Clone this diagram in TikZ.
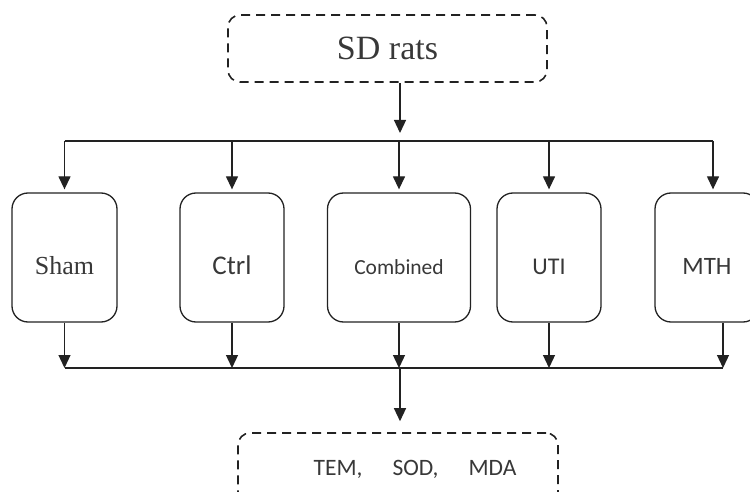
\documentclass[tikz,border=0pt]{standalone}
\usepackage{fontspec}
\setmainfont{Liberation Serif}
\setsansfont{Carlito}
\usetikzlibrary{arrows.meta}
\definecolor{ink}{HTML}{222222}
\tikzset{
  grp/.style={draw=ink,line width=1.3bp,rounded corners=16bp,minimum height=129bp,
    text height=34bp,text depth=0pt,inner sep=0pt,text=ink!90},
  dbox/.style={draw=ink,line width=1.6bp,dash pattern=on 9bp off 6bp,
    rounded corners=12bp,inner sep=0pt,text=ink!90},
  arr/.style={-{Triangle[length=13bp,width=12bp]},draw=ink,line width=1.3bp},
}

\begin{document}
\begin{tikzpicture}[x=1bp,y=-1bp]
  \useasboundingbox (0,0) rectangle (750,492);
  % source
  \node[dbox,minimum width=319bp,minimum height=67bp,
        font=\fontsize{34bp}{40bp}\selectfont] (rats) at (387.5,48.5) {SD rats};
  % groups
  \node[grp,minimum width=105bp,font=\fontsize{26bp}{30bp}\selectfont]
        (sham) at (64.5,257.5) {Sham};
  \node[grp,minimum width=104bp,font=\sffamily\fontsize{27bp}{30bp}\selectfont]
        (ctrl) at (232,257.5) {Ctrl};
  \node[grp,minimum width=143bp,font=\sffamily\fontsize{21.5bp}{26bp}\selectfont]
        (comb) at (399,257.5) {Combined};
  \node[grp,minimum width=104bp,font=\sffamily\fontsize{24bp}{30bp}\selectfont]
        (uti) at (549,257.5) {UTI};
  \node[grp,minimum width=104bp,font=\sffamily\fontsize{25bp}{30bp}\selectfont]
        (mth) at (707,257.5) {MTH};
  % outcome
  \node[dbox,minimum width=320bp,minimum height=72bp,
        font=\sffamily\fontsize{23.5bp}{28bp}\selectfont] (res) at (398,469)
        {\hspace{34bp}TEM,\hspace{30bp}SOD,\hspace{30bp}MDA};
  % branch points
  \coordinate (split) at (400,141);
  \coordinate (mthin) at (713,141);
  \coordinate (merge) at (400,368);
  \coordinate (mthout) at (723,368);
  % connectors
  \draw[arr,shorten >=8bp] (rats.south -| split) -- (split);
  \draw[ink,line width=1.3bp] (sham.north |- split) -- (mthin);
  \foreach \n in {sham,ctrl,comb,uti}
    \draw[arr,shorten >=3bp] (\n.north |- split) -- (\n.north);
  \draw[arr,shorten >=3bp] (mthin) -- (mthin |- mth.north);
  \foreach \n in {sham,ctrl,comb,uti}
    \draw[arr] (\n.south) -- (\n.south |- merge);
  \draw[arr] (mthout |- mth.south) -- (mthout);
  \draw[ink,line width=1.3bp] (sham.south |- merge) -- (mthout);
  \draw[arr,shorten >=11bp] (merge) -- (merge |- res.north);
\end{tikzpicture}
\end{document}
